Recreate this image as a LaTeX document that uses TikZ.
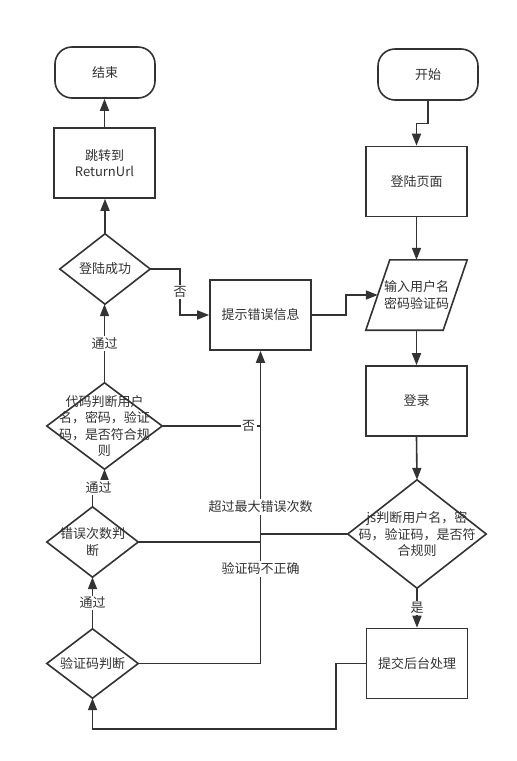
\documentclass[tikz,border=0pt]{standalone}
\usepackage{fontspec}
\setmainfont{Noto Sans CJK SC}
\usetikzlibrary{arrows.meta}
\definecolor{ink}{HTML}{333333}
\begin{document}
\begin{tikzpicture}[x=1pt,y=-1pt,
  every node/.style={font=\fontsize{13}{16.5}\selectfont, text=ink, align=center, inner sep=0pt},
  box/.style={draw=ink, line width=1.6pt, fill=white, minimum width=101pt, minimum height=70pt},
  term/.style={box, minimum width=100pt, minimum height=51pt, rounded corners=17pt},
  dia/.style 2 args={minimum width=#1, minimum height=#2},
  lbl/.style={fill=white, inner sep=1.5pt},
  plain/.style={draw=ink, line width=1.6pt},
  conn/.style={plain, -{Triangle[length=12pt,width=9pt]}}]
\useasboundingbox[fill=white] (0,0) rectangle (517,761);

% nodes
\node[term] (end) at (105,72.5) {结束};
\node[box] (jump) at (104.5,163) {跳转到\\ReturnUrl};
\node[dia={90pt}{70pt}] (succ) at (105,269) {登陆成功};
\node[box] (err) at (260.5,315) {提示错误信息};
\node[term] (start) at (428,74.5) {开始};
\node[box] (page) at (416.5,181.5) {登陆页面};
\node[minimum width=101pt, minimum height=70pt] (input) at (416.5,295) {输入用户名\\密码验证码};
\node[box] (login) at (416.5,401) {登录};
\node[dia={138pt}{108pt}] (js) at (417,534) {js判断用户名，密\\码，验证码，是否符\\合规则};
\node[box] (submit) at (417,663.5) {提交后台处理};
\node[dia={91pt}{69pt}] (vcode) at (92.5,663.5) {验证码判断};
\node[dia={91pt}{70pt}] (count) at (92.5,542) {错误次数判\\断};
\node[dia={115pt}{86pt}] (code) at (104.5,426) {代码判断用户\\名，密码，验证\\码，是否符合规\\则};

% diamond outlines
\foreach \n in {succ,js,vcode,count,code}
  \draw[plain, line join=miter] (\n.north) -- (\n.east) -- (\n.south) -- (\n.west) -- cycle;
% parallelogram outline
\draw[plain] ([xshift=24pt]input.north west) -- (input.north east) -- ([xshift=-24pt]input.south east) -- (input.south west) -- cycle;

% connectors
\draw[conn] (jump.north) -- (jump.north |- end.south);
\draw[conn] (succ.north) -- (succ.north |- jump.south);
\draw[conn] (succ.east) -- ++(30,0) -- node[lbl]{否} ++(0,46) -- (err.west);
\draw[conn] (start.south) -- ++(0,22.5) -| (page.north);
\draw[conn] (page.south) -- (input.north);
\draw[conn] (input.south) -- (login.north);
\draw[conn] (err.east) -- ++(34,0) |- ([xshift=12pt]input.west);
\draw[conn] (login.south) -- (js.north);
\draw[conn] (js.south) -- node[lbl]{是} (submit.north);
\draw[conn] (submit.west) -- ++(-30,0) |- (vcode.south |- 0,729) -- (vcode.south);
\draw[conn] (vcode.east) -| (err.south);
\draw[plain] (count.east) -- (count.east -| err.south);
\draw[plain] (js.west) -- (js.west -| err.south);
\draw[plain] (code.east) -- node[lbl, pos=0.88]{否} (code.east -| err.south);
\node[lbl] (lblmax) at (err.south |- 0,507) {超过最大错误次数};
\node[lbl] (lblwrong) at (err.south |- 0,569) {验证码不正确};
\draw[conn] (vcode.north) -- node[lbl]{通过} (count.south);
\draw[conn] (count.north) -- ++(0,-19) coordinate (bend) -| (code.south);
\node[lbl] (lblpass2) at ([xshift=6pt]bend) {通过};
\draw[conn] (code.north) -- node[lbl]{通过} (code.north |- succ.south);
\end{tikzpicture}
\end{document}
